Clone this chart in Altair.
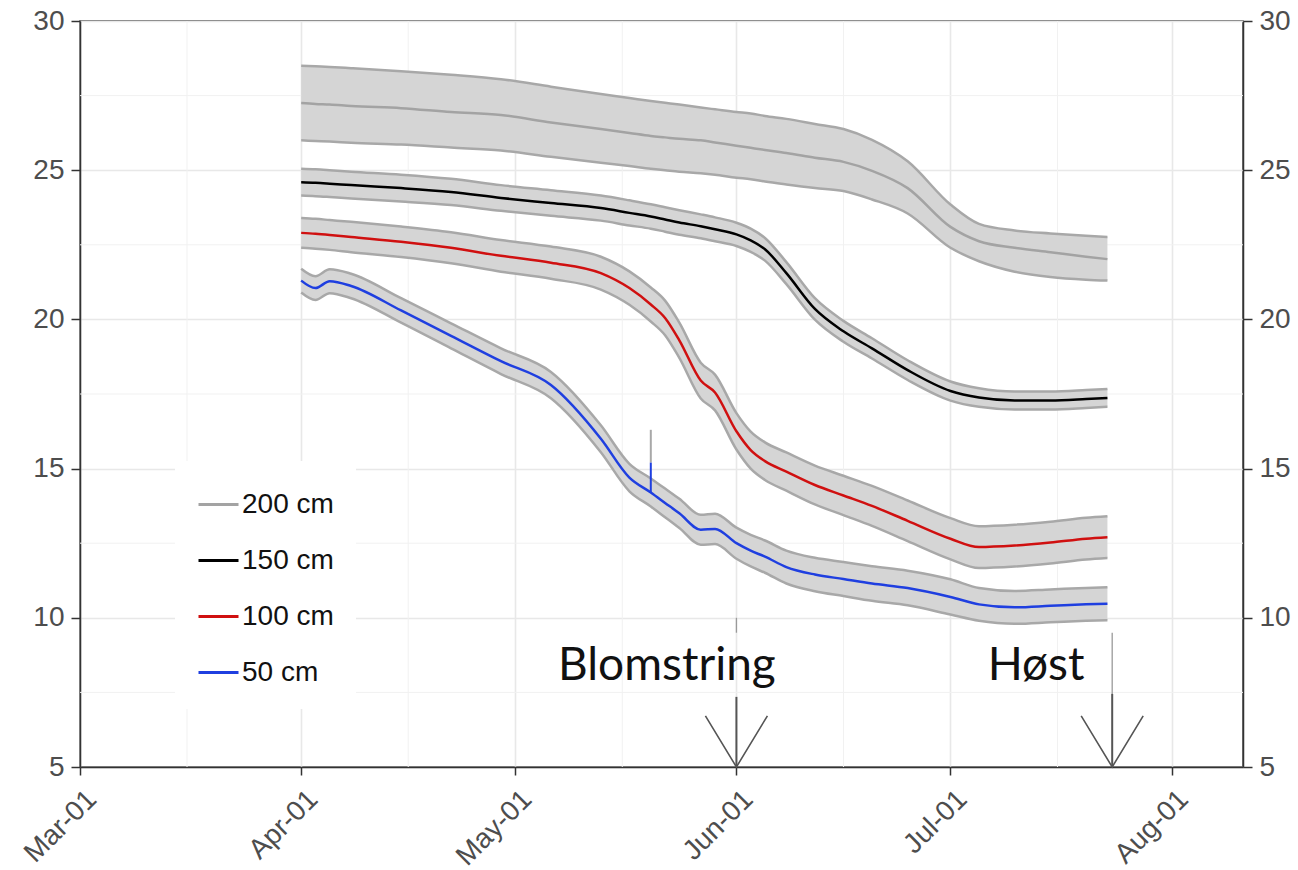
import altair as alt
import pandas as pd

# ---------------- data ----------------
dates = ["2015-04-01", "2015-04-03", "2015-04-05", "2015-04-08", "2015-04-15", "2015-04-22",
         "2015-04-29", "2015-05-06", "2015-05-13", "2015-05-17", "2015-05-20", "2015-05-22",
         "2015-05-24", "2015-05-27", "2015-05-29", "2015-06-01", "2015-06-03", "2015-06-05",
         "2015-06-08", "2015-06-12", "2015-06-16", "2015-06-20", "2015-06-25", "2015-07-01",
         "2015-07-05", "2015-07-10", "2015-07-15", "2015-07-20", "2015-07-23"]

s200 = [27.25, 27.22, 27.2, 27.15, 27.08, 26.95, 26.85, 26.6, 26.38, 26.25, 26.15, 26.1, 26.05, 26.0,
        25.93, 25.82, 25.75, 25.68, 25.58, 25.42, 25.28, 24.98, 24.4, 23.1, 22.62, 22.4, 22.25, 22.1, 22.02]
s200_hi = [28.5, 28.48, 28.46, 28.42, 28.32, 28.2, 28.05, 27.8, 27.55, 27.42, 27.32, 27.26, 27.2, 27.1,
           27.04, 26.95, 26.9, 26.82, 26.72, 26.55, 26.38, 26.02, 25.3, 23.85, 23.2, 22.98, 22.88, 22.8, 22.76]
s200_lo = [26.0, 25.98, 25.96, 25.92, 25.86, 25.76, 25.66, 25.45, 25.25, 25.14, 25.05, 25.0, 24.95, 24.9,
           24.85, 24.75, 24.7, 24.62, 24.52, 24.4, 24.3, 24.02, 23.55, 22.4, 21.95, 21.6, 21.42, 21.33, 21.3]

s150 = [24.6, 24.58, 24.55, 24.5, 24.4, 24.27, 24.07, 23.9, 23.73, 23.57, 23.45, 23.35, 23.25, 23.12,
        23.02, 22.85, 22.65, 22.35, 21.55, 20.35, 19.6, 19.03, 18.3, 17.6, 17.38, 17.28, 17.28, 17.33, 17.37]
s150_hi = [25.05, 25.03, 25.0, 24.95, 24.85, 24.71, 24.5, 24.33, 24.15, 23.99, 23.86, 23.76, 23.66, 23.52,
           23.42, 23.24, 23.04, 22.73, 21.92, 20.71, 19.95, 19.37, 18.63, 17.92, 17.69, 17.58, 17.58, 17.63, 17.67]
s150_lo = [24.15, 24.13, 24.1, 24.05, 23.95, 23.83, 23.64, 23.47, 23.31, 23.15, 23.04, 22.94, 22.84, 22.72,
           22.62, 22.46, 22.26, 21.97, 21.18, 19.99, 19.25, 18.69, 17.97, 17.28, 17.07, 16.98, 16.98, 17.03, 17.07]

s100 = [22.9, 22.87, 22.83, 22.76, 22.6, 22.4, 22.13, 21.9, 21.55, 21.05, 20.5, 20.05, 19.3, 17.95,
        17.55, 16.25, 15.62, 15.25, 14.9, 14.45, 14.1, 13.75, 13.25, 12.65, 12.37, 12.42, 12.52, 12.65, 12.7]
s100_hi = [23.4, 23.37, 23.33, 23.27, 23.11, 22.92, 22.66, 22.44, 22.1, 21.61, 21.07, 20.63, 19.89, 18.55,
           18.15, 16.86, 16.24, 15.88, 15.54, 15.1, 14.76, 14.42, 13.93, 13.34, 13.07, 13.12, 13.22, 13.35, 13.4]
s100_lo = [22.4, 22.37, 22.33, 22.25, 22.09, 21.88, 21.6, 21.36, 21.0, 20.49, 19.93, 19.47, 18.71, 17.35,
           16.95, 15.64, 15.0, 14.62, 14.26, 13.8, 13.44, 13.08, 12.57, 11.96, 11.67, 11.72, 11.82, 11.95, 12.0]

s50 = [21.3, 21.05, 21.28, 21.12, 20.3, 19.45, 18.6, 17.8, 16.0, 14.7, 14.2, 13.85, 13.5, 12.95,
       12.98, 12.5, 12.25, 12.05, 11.7, 11.45, 11.3, 11.15, 11.0, 10.7, 10.45, 10.35, 10.4, 10.45, 10.47]
s50_hi = [21.7, 21.45, 21.68, 21.53, 20.71, 19.87, 19.03, 18.24, 16.45, 15.16, 14.67, 14.33, 13.99, 13.45,
          13.49, 13.02, 12.78, 12.59, 12.25, 12.01, 11.87, 11.73, 11.58, 11.29, 11.0, 10.9, 10.95, 11.0, 11.02]
s50_lo = [20.9, 20.65, 20.88, 20.71, 19.89, 19.03, 18.17, 17.36, 15.55, 14.24, 13.73, 13.37, 13.01, 12.45,
          12.47, 11.98, 11.72, 11.51, 11.15, 10.89, 10.73, 10.57, 10.42, 10.11, 9.9, 9.8, 9.85, 9.9, 9.92]

series_names = ["200 cm", "150 cm", "100 cm", "50 cm"]
series_colors = ["#a3a3a3", "#000000", "#d01010", "#1f3fe0"]

# single-reading spike in the 50 cm series
spike_date = ["2015-05-20"]
spike_line = [14.2, 15.2]
spike_band = [15.2, 16.3]

# annotations
ann_labels = ["Blomstring", "Høst"]
ann_text_dates = ["2015-05-22T06:00:00Z", "2015-07-13T00:00:00Z"]
ann_text_y = [8.4, 8.4]
event_dates = ["2015-06-01", "2015-07-23T16:00:00Z"]
shaft_thin_top = [10.0, 9.5]
shaft_thin_bottom = [9.5, 7.45]
shaft_thick_top = [7.35, 7.45]
axis_floor = [5.0, 5.0]

x_domain = ["2015-03-01", "2015-08-11"]
x_ticks = ["2015-03-01", "2015-04-01", "2015-05-01", "2015-06-01", "2015-07-01", "2015-08-01"]
x_minor = ["2015-03-16", "2015-04-16", "2015-05-16", "2015-06-16", "2015-07-16"]
y_ticks = [5, 10, 15, 20, 25, 30]
y_minor = [7.5, 12.5, 17.5, 22.5, 27.5]

# ---------------- tables ----------------
def ms(s):
    return int(pd.Timestamp(s).value // 10**6)

rows = []
for name, c, lo, hi in [("200 cm", s200, s200_lo, s200_hi), ("150 cm", s150, s150_lo, s150_hi),
                        ("100 cm", s100, s100_lo, s100_hi), ("50 cm", s50, s50_lo, s50_hi)]:
    for d, v, l, h in zip(dates, c, lo, hi):
        rows.append({"date": d, "series": name, "value": v, "lo": l, "hi": h})
df = pd.DataFrame(rows)

spike_df = pd.DataFrame({"date": spike_date, "l0": [spike_line[0]], "l1": [spike_line[1]],
                         "b0": [spike_band[0]], "b1": [spike_band[1]]})
ann_df = pd.DataFrame({"label": ann_labels, "date": ann_text_dates, "y": ann_text_y})
thin_df = pd.DataFrame({"date": event_dates, "top": shaft_thin_top, "bottom": shaft_thin_bottom})
thick_df = pd.DataFrame({"date": event_dates, "top": shaft_thick_top, "bottom": axis_floor})
head_df = pd.DataFrame({"date": event_dates, "y": axis_floor})
xminor_df = pd.DataFrame({"date": x_minor})
yminor_df = pd.DataFrame({"level": y_minor})

# ---------------- encodings ----------------
FONT = "Liberation Sans"
x_scale = alt.Scale(type="utc", domain=[ms(x_domain[0]), ms(x_domain[1])], nice=False)
x_axis = alt.Axis(values=[ms(t) for t in x_ticks],
                  labelExpr="utcFormat(datum.value, '%b-%d')",
                  labelAngle=-45, labelFontSize=28, labelFont=FONT, labelColor="#4d4d4d",
                  labelPadding=10, labelOffset=2, grid=True, gridColor="#e8e8e8", gridWidth=1.6,
                  domainColor="#333333", domainWidth=1.5, tickColor="#333333", tickSize=8,
                  tickWidth=1.5, title=None)
y_scale = alt.Scale(domain=[5, 30], nice=False, zero=False)


def yaxis(orient, grid):
    return alt.Axis(values=y_ticks, orient=orient, grid=grid, gridColor="#e8e8e8", gridWidth=1.6,
                    domainColor="#333333", domainWidth=1.5, tickColor="#333333", tickSize=9,
                    tickWidth=1.5, labelFontSize=28, labelFont=FONT, labelColor="#4d4d4d",
                    labelPadding=7, title=None)


def X():
    return alt.X("date:T", scale=x_scale, axis=x_axis)


def Y(field, axis=None):
    return alt.Y(field, type="quantitative", scale=y_scale, axis=axis)


# ---------------- layers ----------------
hminor = alt.Chart(yminor_df).mark_rule(color="#f1f1f1", strokeWidth=1).encode(
    y=Y("level", yaxis("left", True)))
vminor = alt.Chart(xminor_df).mark_rule(color="#f1f1f1", strokeWidth=1).encode(x=X())

bands = alt.Chart(df).mark_area(color="#d5d5d5", opacity=1, interpolate="monotone").encode(
    x=X(), y=Y("lo"), y2="hi", detail="series:N")
edge_lo = alt.Chart(df).mark_line(color="#a8a8a8", strokeWidth=2.5, interpolate="monotone").encode(
    x=X(), y=Y("lo"), detail="series:N")
edge_hi = alt.Chart(df).mark_line(color="#a8a8a8", strokeWidth=2.5, interpolate="monotone").encode(
    x=X(), y=Y("hi"), detail="series:N")

lines = alt.Chart(df).mark_line(strokeWidth=2.5, interpolate="monotone").encode(
    x=X(), y=Y("value"),
    color=alt.Color("series:N",
                    scale=alt.Scale(domain=series_names, range=series_colors),
                    legend=alt.Legend(orient="none", legendX=95, legendY=440, title=None,
                                      symbolType="stroke", symbolSize=1600, symbolStrokeWidth=3,
                                      labelFontSize=28, labelFont=FONT, labelColor="#111111",
                                      fillColor="white", padding=22, rowPadding=20, labelOffset=2)))

spike_band_rule = alt.Chart(spike_df).mark_rule(color="#a8a8a8", strokeWidth=2).encode(
    x=X(), y=Y("b0"), y2="b1")
spike_line_rule = alt.Chart(spike_df).mark_rule(color="#1f3fe0", strokeWidth=2).encode(
    x=X(), y=Y("l0"), y2="l1")

thin = alt.Chart(thin_df).mark_rule(color="#9a9a9a", strokeWidth=1.3).encode(
    x=X(), y=Y("top", yaxis("right", False)), y2="bottom")
thick = alt.Chart(thick_df).mark_rule(color="#555555", strokeWidth=2).encode(
    x=X(), y=Y("top"), y2="bottom")
heads = alt.Chart(head_df).mark_point(shape="M-1,-1.65L0,0L1,-1.65", size=3844, filled=False,
                                      color="#555555", strokeWidth=1.6, opacity=1).encode(
    x=X(), y=Y("y"))
texts = alt.Chart(ann_df).mark_text(font="Lato", fontSize=46, color="#111111",
                                    align="center", baseline="middle").encode(
    x=X(), y=Y("y"), text="label:N")

chart = alt.layer(hminor, vminor, bands, edge_lo, edge_hi, lines, spike_band_rule, spike_line_rule,
                  thin, thick, heads, texts).resolve_axis(y="independent").properties(
    width=1163, height=746,
    autosize=alt.AutoSizeParams(type="none"),
    padding={"left": 80, "top": 21, "right": 55, "bottom": 103},
    background="white",
).configure_view(stroke="#444444", strokeWidth=1.5)

chart.save("out.html", embed_options={"renderer": "svg", "actions": False})
